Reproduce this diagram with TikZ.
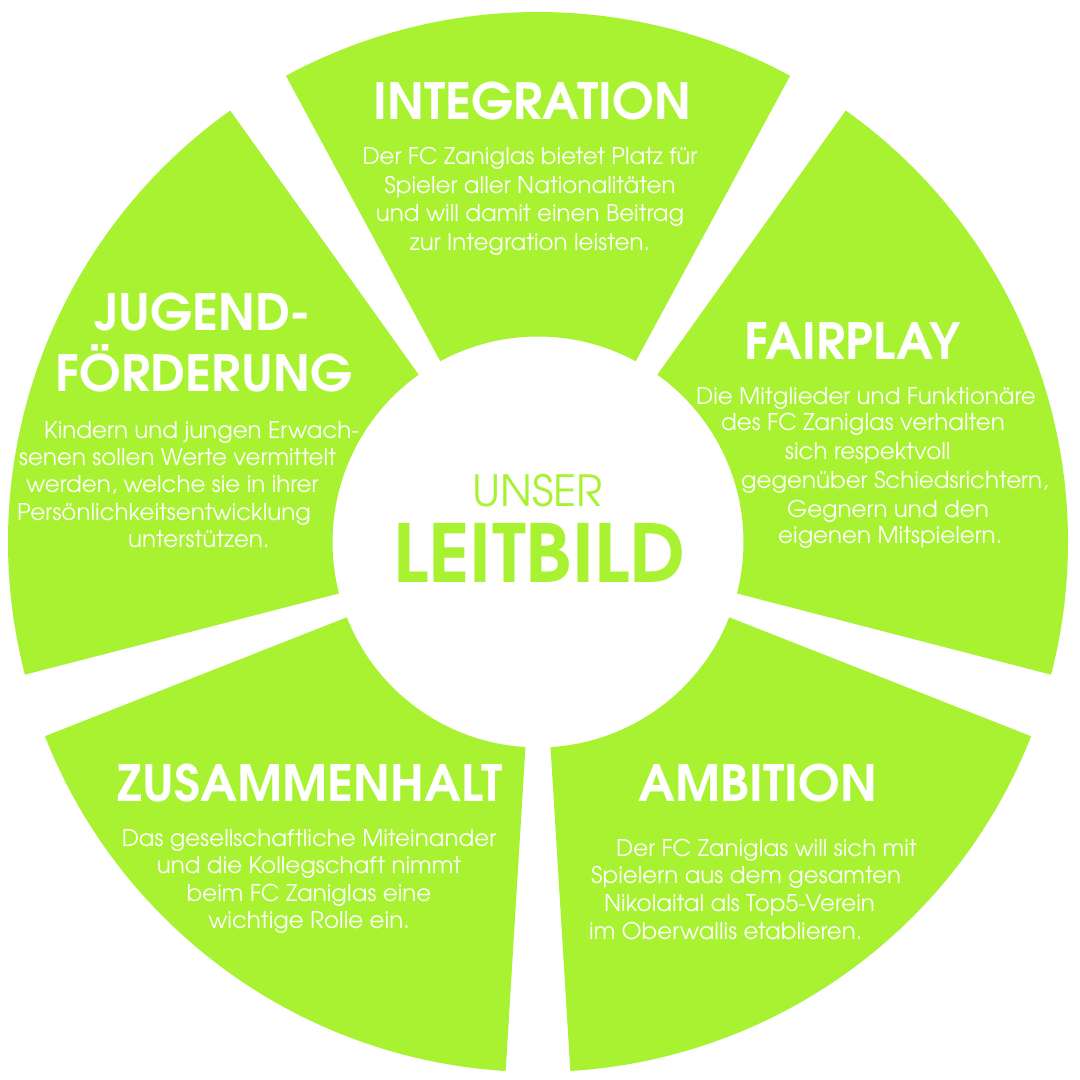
\documentclass[tikz,border=0pt]{standalone}
\usepackage{fontspec}
\setmainfont{TeX Gyre Adventor}
\definecolor{leaf}{RGB}{168,242,50}
\begin{document}
\begin{tikzpicture}[x=1pt,y=1pt,
  sector/.style={fill=leaf},
  ttl/.style={text=white,font=\fontsize{50}{52}\selectfont\bfseries,inner sep=0pt,anchor=base},
  body/.style={text=white,font=\fontsize{23}{27}\selectfont,inner sep=0pt,anchor=base},
  bodyl/.style={body,anchor=base west}]
\fill[white] (0,0) rectangle (1080,1080);
\useasboundingbox (0,0) rectangle (1080,1080);
\coordinate (C) at (538,538);
% sectors
\foreach \a/\b in {61.6/118.4,125.5/194.5,201.5/266.5,273.5/338.5,345.5/414.5}
  \fill[sector] ([shift={(\a:530)}]C) arc[start angle=\a,end angle=\b,radius=530]
    -- ([shift={(\b:205.5)}]C) arc[start angle=\b,end angle=\a,radius=205.5] -- cycle;
% centre
\node[text=leaf,font=\fontsize{43}{45}\selectfont,inner sep=0pt,anchor=base] (unser) at (537.5,573) {UNSER};
\node[text=leaf,font=\fontsize{80}{82}\selectfont\bfseries,inner sep=0pt,anchor=base] (leitbild) at (539.5,497) {LEITBILD};
% Integration
\node[ttl] (tint) at (532,960) {INTEGRATION};
\foreach \t/\y [count=\i] in {{Der FC Zaniglas bietet Platz für}/165,{Spieler aller Nationalitäten}/193.5,{und will damit einen Beitrag}/222,{zur Integration leisten.}/250.5}
  \node[body] (int\i) at (530,{1080-\y}) {\t};
% Jugendfoerderung
\node[ttl] (tjug1) at (202.5,{1080-331}) {JUGEND-};
\node[ttl] (tjug2) at (204,{1080-392}) {FÖRDERUNG};
\foreach \t/\x/\y [count=\i] in {{Kindern und jungen Erwach-}/44/439,{senen sollen Werte vermittelt}/19/466,{werden, welche sie in ihrer}/26/493,{Persönlichkeitsentwicklung}/17/521,{unterstützen.}/128/548}
  \node[bodyl] (jug\i) at (\x,{1080-\y}) {\t};
% Fairplay
\node[ttl] (tfair) at (852.5,{1080-360}) {FAIRPLAY};
\foreach \t/\x/\y [count=\i] in {{Die Mitglieder und Funktionäre}/696/405,{des FC Zaniglas verhalten}/721/431,{sich respektvoll}/785/460,{gegenüber Schiedsrichtern,}/741/489,{Gegnern und den}/787/518,{eigenen Mitspielern.}/778/544}
  \node[bodyl] (fair\i) at (\x,{1080-\y}) {\t};
% Zusammenhalt
\node[ttl] (tzus) at (310,{1080-802}) {ZUSAMMENHALT};
\foreach \t/\y [count=\i] in {{Das gesellschaftliche Miteinander}/847,{und die Kollegschaft nimmt}/874,{beim FC Zaniglas eine}/902,{wichtige Rolle ein.}/929}
  \node[body] (zus\i) at (309,{1080-\y}) {\t};
% Ambition
\node[ttl] (tamb) at (757.5,{1080-802}) {AMBITION};
\foreach \t/\x/\y [count=\i] in {{Der FC Zaniglas will sich mit}/616/857,{Spielern aus dem gesamten}/591/884,{Nikolaital als Top5-Verein}/604/912,{im Oberwallis etablieren.}/589/940}
  \node[bodyl] (amb\i) at (\x,{1080-\y}) {\t};
\end{tikzpicture}
\end{document}
